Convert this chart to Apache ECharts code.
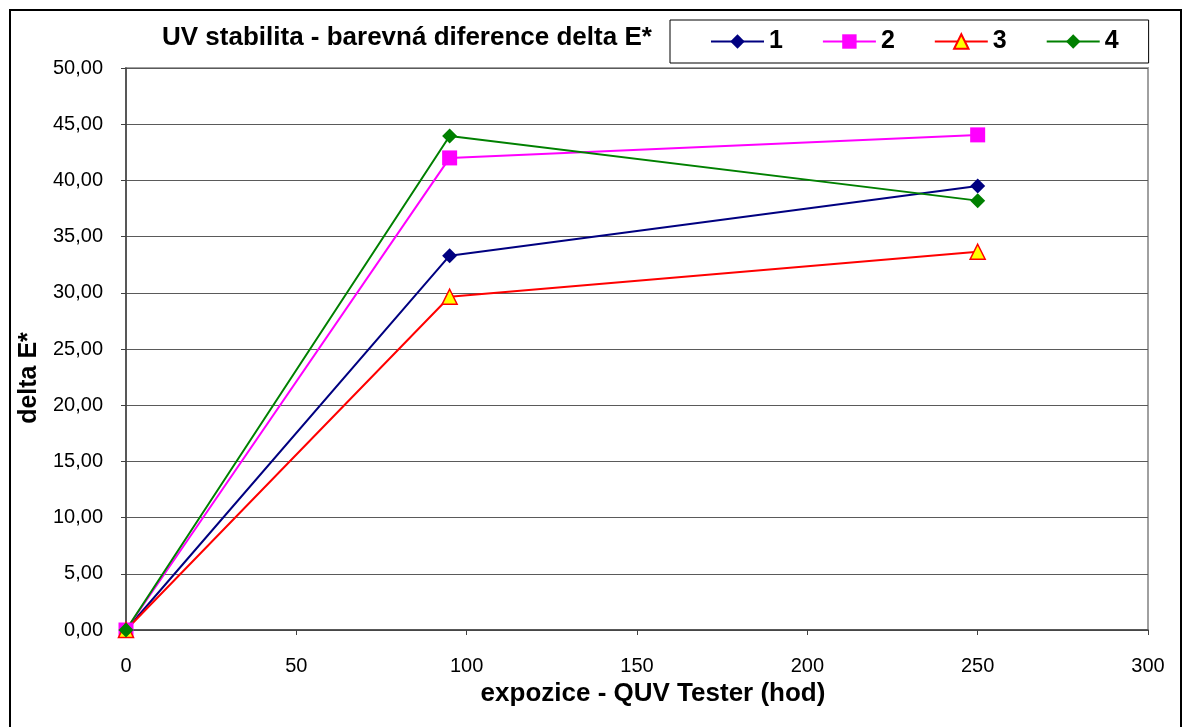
<!DOCTYPE html>
<html>
<head>
<meta charset="utf-8">
<script src="https://cdn.jsdelivr.net/npm/echarts@6/dist/echarts.min.js"></script>
<style>
html,body{margin:0;padding:0;background:#fff;}
#chart{width:1184px;height:727px;}
</style>
</head>
<body>
<div id="chart"></div>
<script>
const titleText = 'UV stabilita - barevná diference delta E*';
const xAxisName = 'expozice - QUV Tester (hod)';
const yAxisName = 'delta E*';
const hours = [0, 95, 250];
const series1 = [0, 33.3, 39.5];
const series2 = [0, 42.0, 44.05];
const series3 = [0, 29.65, 33.65];
const series4 = [0, 43.95, 38.2];
const seriesNames = ['1', '2', '3', '4'];

function pairs(vals){ return hours.map((h,i)=>[h, vals[i]]); }

const chart = echarts.init(document.getElementById('chart'), null, {renderer:'canvas'});
const fontFamily = '"Liberation Sans", Arial, sans-serif';

chart.setOption({
  animation: false,
  backgroundColor: '#fff',
  textStyle: {fontFamily: fontFamily},
  graphic: [{
    type: 'rect', z: 100, silent: true,
    shape: {x: 10, y: 10, width: 1171, height: 740},
    style: {fill: 'none', stroke: '#000', lineWidth: 2}
  }],
  title: {
    text: titleText,
    left: 162, top: 25,
    padding: 0,
    textStyle: {fontSize: 26, fontWeight: 'bold', color: '#000', fontFamily: fontFamily}
  },
  legend: {
    left: 670, top: 20,
    padding: [9, 30, 9, 40],
    itemGap: 39,
    itemWidth: 53,
    itemHeight: 18,
    borderColor: '#000',
    borderWidth: 1,
    textStyle: {fontSize: 25, fontWeight: 'bold', color: '#000', fontFamily: fontFamily},
    data: seriesNames
  },
  grid: {
    left: 126, right: 36, top: 68, bottom: 97,
    show: true, borderColor: '#a0a0a0', borderWidth: 2, backgroundColor: '#fff'
  },
  xAxis: {
    type: 'value', min: 0, max: 300, interval: 50,
    name: xAxisName, nameLocation: 'middle', nameGap: 51,
    nameTextStyle: {fontSize: 26, fontWeight: 'bold', color: '#000', fontFamily: fontFamily,
      padding: [0, 0, 0, 32]},
    axisLine: {show: true, onZero: false, lineStyle: {color: '#404040', width: 1.5}},
    axisTick: {show: true, inside: false, length: 5, lineStyle: {color: '#404040'}},
    axisLabel: {fontSize: 20, color: '#000', margin: 26, fontFamily: fontFamily},
    splitLine: {show: false}
  },
  yAxis: {
    type: 'value', min: 0, max: 50, interval: 5,
    name: yAxisName, nameLocation: 'middle', nameGap: 80,
    nameTextStyle: {fontSize: 25, fontWeight: 'bold', color: '#000', fontFamily: fontFamily,
      padding: [0, 58, 0, 0]},
    axisLine: {show: true, lineStyle: {color: '#404040', width: 1.5}},
    axisTick: {show: true, inside: false, length: 5, lineStyle: {color: '#404040'}},
    axisLabel: {fontSize: 20, color: '#000', margin: 23, fontFamily: fontFamily,
      formatter: v => v.toFixed(2).replace('.', ',')},
    splitLine: {show: true, lineStyle: {color: '#5a5a5a', width: 1}}
  },
  series: [
    {name: seriesNames[0], type: 'line', data: pairs(series1), symbol: 'diamond', symbolSize: 15,
     lineStyle: {color: '#000080', width: 2}, itemStyle: {color: '#000080'}},
    {name: seriesNames[1], type: 'line', data: pairs(series2), symbol: 'rect', symbolSize: 15,
     lineStyle: {color: '#ff00ff', width: 2}, itemStyle: {color: '#ff00ff'}},
    {name: seriesNames[2], type: 'line', data: pairs(series3), symbol: 'triangle', symbolSize: 15,
     lineStyle: {color: '#ff0000', width: 2}, itemStyle: {color: '#ffff00', borderColor: '#ff0000', borderWidth: 1.5}},
    {name: seriesNames[3], type: 'line', data: pairs(series4), symbol: 'diamond', symbolSize: 15,
     lineStyle: {color: '#008000', width: 2}, itemStyle: {color: '#008000'}}
  ]
});
</script>
</body>
</html>
